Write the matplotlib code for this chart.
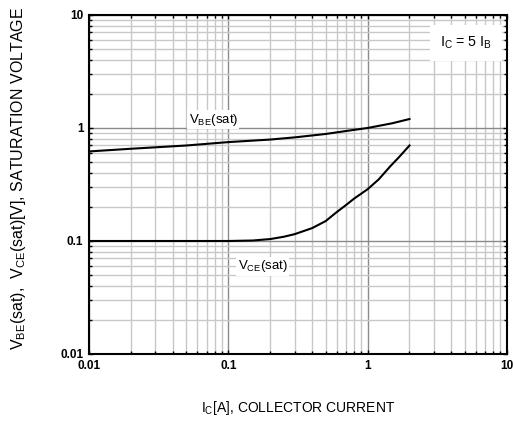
import numpy as np
import matplotlib
matplotlib.use("Agg")
import matplotlib.pyplot as plt
from matplotlib.ticker import LogLocator, FixedLocator, NullFormatter

plt.rcParams['font.family'] = ['Liberation Sans', 'DejaVu Sans']
plt.rcParams['mathtext.fontset'] = 'custom'
plt.rcParams['mathtext.rm'] = 'Liberation Sans'

# values
ic_vbe = [0.01, 0.02, 0.05, 0.1, 0.2, 0.3, 0.5, 0.7, 1.0, 1.5, 2.0]
vbe_sat = [0.62, 0.655, 0.70, 0.75, 0.79, 0.826, 0.885, 0.94, 1.0, 1.1, 1.2]

ic_vce = [0.01, 0.05, 0.1, 0.15, 0.2, 0.25, 0.3, 0.4, 0.5, 0.6, 0.7, 0.8, 1.0, 1.2, 1.46, 1.7, 2.0]
vce_sat = [0.1, 0.1, 0.1, 0.101, 0.104, 0.109, 0.115, 0.130, 0.150, 0.180, 0.208, 0.237,
           0.287, 0.35, 0.46, 0.56, 0.70]

fig = plt.figure(figsize=(5.13, 4.28), dpi=100)
ax = fig.add_axes([0.1735, 0.1729, 0.8145, 0.7921])

ax.plot(ic_vbe, vbe_sat, color='black', lw=1.5, zorder=3)
ax.plot(ic_vce, vce_sat, color='black', lw=1.5, zorder=3)

ax.set_xscale('log')
ax.set_yscale('log')
ax.set_xlim(0.01, 10)
ax.set_ylim(0.01, 10)

ax.xaxis.set_major_locator(FixedLocator([0.01, 0.1, 1, 10]))
ax.yaxis.set_major_locator(FixedLocator([0.01, 0.1, 1, 10]))
ax.xaxis.set_minor_locator(LogLocator(subs=np.arange(2, 10)))
ax.yaxis.set_minor_locator(LogLocator(subs=np.arange(2, 10)))
ax.xaxis.set_minor_formatter(NullFormatter())
ax.yaxis.set_minor_formatter(NullFormatter())
ax.set_xticklabels(['0.01', '0.1', '1', '10'])
ax.set_yticklabels(['0.01', '0.1', '1', '10'])

ax.grid(True, which='major', color='#8a8a8a', lw=1.0)
ax.grid(True, which='minor', color='#c8c8c8', lw=1.0)
ax.set_axisbelow(True)

ax.tick_params(which='both', direction='in', top=True, right=True, color='black')
ax.tick_params(which='major', length=3, width=1, labelsize=8.5, pad=4)
ax.tick_params(which='minor', length=2, width=1)
for lab in ax.get_xticklabels() + ax.get_yticklabels():
    lab.set_fontweight('bold')
for sp in ax.spines.values():
    sp.set_linewidth(1.5)

ax.text(0.078, 1.18, r'$\mathregular{V_{BE}}$(sat)', fontsize=9.5, ha='center', va='center',
        bbox=dict(facecolor='white', edgecolor='none', pad=1), zorder=4)
ax.text(0.176, 0.06, r'$\mathregular{V_{CE}}$(sat)', fontsize=9.5, ha='center', va='center',
        bbox=dict(facecolor='white', edgecolor='none', pad=1), zorder=4)
ax.text(0.964, 0.917, r'$\mathregular{I_C}$ = 5 $\mathregular{I_B}$', transform=ax.transAxes,
        fontsize=10.3, ha='right', va='center',
        bbox=dict(facecolor='white', edgecolor='none', pad=7), zorder=4)

ax.set_xlabel(r'$\mathregular{I_C}$[A], COLLECTOR CURRENT', fontsize=10, labelpad=20)
fig.text(19 / 513, 1 - 178 / 428,
         r'$\mathregular{V_{BE}}$(sat),  $\mathregular{V_{CE}}$(sat)[V], SATURATION VOLTAGE',
         fontsize=11.5, rotation=90, ha='center', va='center')

fig.savefig('out.png', dpi=100)
